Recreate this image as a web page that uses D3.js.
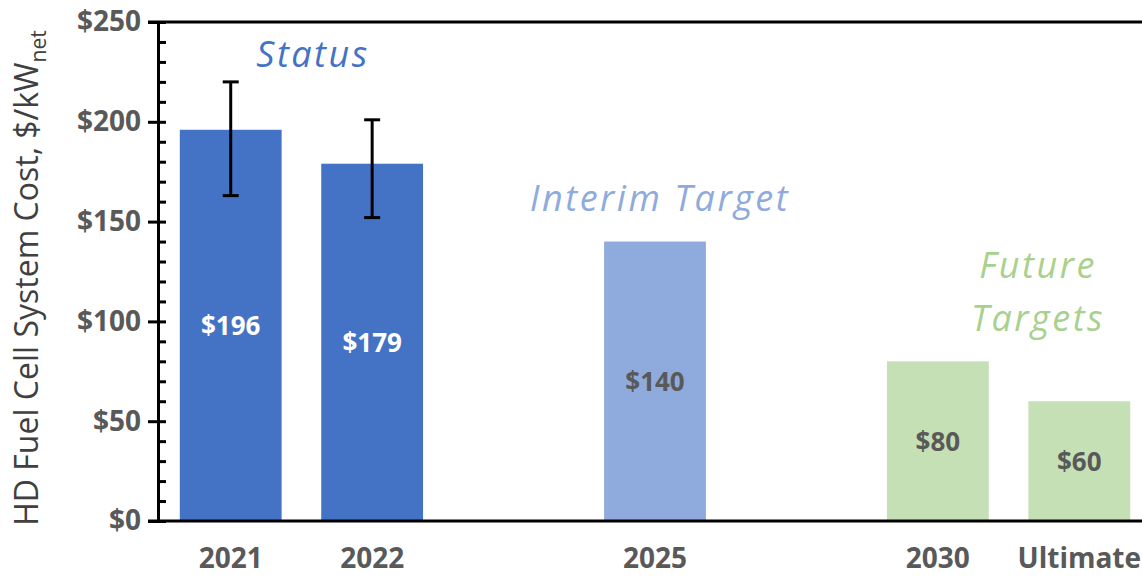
<!DOCTYPE html>
<html lang="en">
<head>
<meta charset="UTF-8">
<title>HD Fuel Cell System Cost</title>
<script src="https://cdn.jsdelivr.net/npm/d3@7"></script>
<style>
  body { margin: 0; background: #fff; }
  text { font-family: "Open Sans", sans-serif; }
  .tick-label { font-size: 28px; font-weight: bold; fill: #595959; }
  .group-label { font-size: 36px; font-style: italic; letter-spacing: 2.5px; }
</style>
</head>
<body>
<svg width="1142" height="577"></svg>
<script>
// categories (blank slots keep the gaps between groups)
var categories = ["2021", "2022", "gap1", "2025", "gap2", "2030", "Ultimate"];
var barCats = ["2021", "2022", "2025", "2030", "Ultimate"];
var costs = [196, 179, 140, 80, 60];
var errLow = [163, 152, null, null, null];
var errHigh = [220, 201, null, null, null];
var barKind = ["status", "status", "interim", "future", "future"];
var yTicks = [0, 50, 100, 150, 200, 250];

var colors = { status: "#4472C4", interim: "#8FAADC", future: "#C5E0B4" };
var labelColors = { status: "#ffffff", interim: "#595959", future: "#595959" };

var svg = d3.select("svg");

var x = d3.scaleBand()
    .domain(categories)
    .range([160, 1150])
    .paddingInner(0.28)
    .paddingOuter(0.14);

var y = d3.scaleLinear()
    .domain([0, 250])
    .range([521, 22]);

var data = barCats.map(function(c, i) {
    return { cat: c, value: costs[i], lo: errLow[i], hi: errHigh[i], kind: barKind[i] };
});

// bars
svg.append("g").selectAll("rect")
    .data(data)
    .enter().append("rect")
    .attr("x", function(d) { return x(d.cat); })
    .attr("y", function(d) { return y(d.value); })
    .attr("width", x.bandwidth())
    .attr("height", function(d) { return y(0) - y(d.value); })
    .attr("fill", function(d) { return colors[d.kind]; });

// value labels in middle of bar
svg.append("g").selectAll("text")
    .data(data)
    .enter().append("text")
    .attr("x", function(d) { return x(d.cat) + x.bandwidth() / 2; })
    .attr("y", function(d) { return (y(0) + y(d.value)) / 2 + 10; })
    .attr("text-anchor", "middle")
    .style("font-size", "26px")
    .style("font-weight", "bold")
    .style("fill", function(d) { return labelColors[d.kind]; })
    .text(function(d) { return "$" + d.value; });

// error bars
var eb = svg.append("g").attr("stroke", "#000").attr("stroke-width", 3)
    .selectAll("g")
    .data(data.filter(function(d) { return d.lo != null; }))
    .enter().append("g");
eb.append("line")
    .attr("x1", function(d) { return x(d.cat) + x.bandwidth() / 2; })
    .attr("x2", function(d) { return x(d.cat) + x.bandwidth() / 2; })
    .attr("y1", function(d) { return y(d.lo); })
    .attr("y2", function(d) { return y(d.hi); });
eb.append("line")
    .attr("x1", function(d) { return x(d.cat) + x.bandwidth() / 2 - 8; })
    .attr("x2", function(d) { return x(d.cat) + x.bandwidth() / 2 + 8; })
    .attr("y1", function(d) { return y(d.lo); })
    .attr("y2", function(d) { return y(d.lo); });
eb.append("line")
    .attr("x1", function(d) { return x(d.cat) + x.bandwidth() / 2 - 8; })
    .attr("x2", function(d) { return x(d.cat) + x.bandwidth() / 2 + 8; })
    .attr("y1", function(d) { return y(d.hi); })
    .attr("y2", function(d) { return y(d.hi); });

// minor ticks (right side of axis)
var minor = svg.append("g")
    .attr("transform", "translate(158,0)")
    .call(d3.axisRight(y).ticks(25).tickSize(8).tickFormat(""));
minor.select(".domain").remove();
minor.selectAll("line").attr("stroke", "#000").attr("stroke-width", 3);

// major ticks + labels
var yAxis = svg.append("g")
    .attr("transform", "translate(158,0)")
    .call(d3.axisLeft(y).tickValues(yTicks).tickSize(10).tickSizeOuter(0)
        .tickFormat(function(d) { return "$" + d; }));
yAxis.select(".domain").attr("stroke", "#000").attr("stroke-width", 3);
yAxis.selectAll(".tick line").attr("stroke", "#000").attr("stroke-width", 3);
yAxis.selectAll(".tick text")
    .attr("class", "tick-label")
    .attr("x", -17)
    .style("font-family", "'Open Sans', sans-serif");

// top border and x axis line
svg.append("line").attr("x1", 148).attr("x2", 1142).attr("y1", y(250)).attr("y2", y(250))
    .attr("stroke", "#000").attr("stroke-width", 3);
var xAxis = svg.append("g")
    .attr("transform", "translate(0," + y(0) + ")")
    .call(d3.axisBottom(x).tickSize(0)
        .tickFormat(function(d) { return d.indexOf("gap") === 0 ? "" : d; }));
xAxis.select(".domain").remove();
svg.append("line").attr("x1", 148).attr("x2", 1142).attr("y1", y(0)).attr("y2", y(0))
    .attr("stroke", "#000").attr("stroke-width", 3);
xAxis.selectAll(".tick text")
    .attr("class", "tick-label")
    .attr("y", 47)
    .attr("dy", 0)
    .style("font-family", "'Open Sans', sans-serif");

// group annotations
var notes = [
    { lines: ["Status"], x: 313, y: 67, color: "#4472C4" },
    { lines: ["Interim Target"], x: 660, y: 211, color: "#8FAADC" },
    { lines: ["Future", "Targets"], x: 1038, y: 278, color: "#A9D18E" }
];
notes.forEach(function(n) {
    var t = svg.append("text")
        .attr("class", "group-label")
        .attr("text-anchor", "middle")
        .attr("x", n.x).attr("y", n.y)
        .style("fill", n.color);
    n.lines.forEach(function(l, i) {
        t.append("tspan").attr("x", n.x).attr("dy", i === 0 ? 0 : 53).text(l);
    });
});

// y axis title
var title = svg.append("text")
    .attr("transform", "translate(38,278) rotate(-90)")
    .attr("text-anchor", "middle")
    .style("font-size", "32px")
    .style("fill", "#404040");
title.append("tspan").text("HD Fuel Cell System Cost, $/kW");
title.append("tspan").attr("dy", 8).style("font-size", "21px").text("net");
</script>
</body>
</html>
